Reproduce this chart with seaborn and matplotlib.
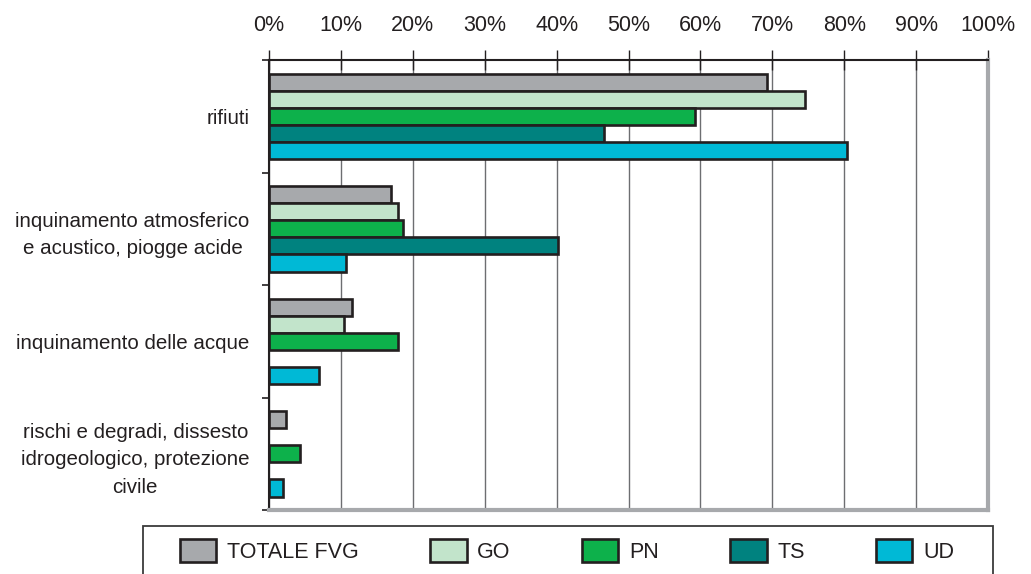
import numpy as np
import pandas as pd
import matplotlib
matplotlib.use("Agg")
import matplotlib.pyplot as plt
from matplotlib import font_manager
from matplotlib.patches import Rectangle
from matplotlib.ticker import FixedLocator
import seaborn as sns

# Percentuali per tema ambientale e zona
categorie = [
    "rifiuti",
    "inquinamento atmosferico\ne acustico, piogge acide",
    "inquinamento delle acque",
    "rischi e degradi, dissesto\nidrogeologico, protezione\ncivile",
]
zone = ["TOTALE FVG", "GO", "PN", "TS", "UD"]
totale_fvg = [69.3, 16.9, 11.6, 2.3]
go = [74.6, 17.9, 10.5, np.nan]
pn = [59.2, 18.7, 17.9, 4.3]
ts = [46.6, 40.2, np.nan, np.nan]
ud = [80.4, 10.7, 6.9, 2.0]
tick_valori = list(range(0, 101, 10))
tick_etichette = [f"{v}%" for v in tick_valori]

colori = ["#A7A9AC", "#C2E4CB", "#0DB14B", "#00827F", "#00B9D6"]

sns.set_style("white")
plt.rcParams["font.family"] = ["Liberation Sans", "DejaVu Sans"]
nomi = {f.name for f in font_manager.fontManager.ttflist}
font_legenda = "Liberation Sans Narrow" if "Liberation Sans Narrow" in nomi else "Liberation Sans"

righe = []
for zona, valori in zip(zone, [totale_fvg, go, pn, ts, ud]):
    for cat, v in zip(categorie, valori):
        if not np.isnan(v):
            righe.append({"categoria": cat, "zona": zona, "valore": v})
df = pd.DataFrame(righe)

fig = plt.figure(figsize=(10.31, 5.74), dpi=100)
ax = fig.add_axes([269 / 1031, 1 - 510 / 574, (988 - 269) / 1031, (510 - 60) / 574])

sns.barplot(
    data=df, y="categoria", x="valore", hue="zona",
    order=categorie, hue_order=zone, palette=colori,
    orient="h", width=0.76, saturation=1,
    edgecolor="#231F20", linewidth=1.9, errorbar=None, ax=ax,
)
handles, labels = ax.get_legend_handles_labels()
if ax.get_legend() is not None:
    ax.get_legend().remove()

ax.set_xlim(0, 100)
ax.set_ylim(3.5, -0.5)
ax.set_xlabel("")
ax.set_ylabel("")

# asse percentuale in alto
ax.xaxis.tick_top()
ax.set_xticks(tick_valori)
ax.set_xticklabels(tick_etichette)
ax.tick_params(axis="x", top=True, bottom=False, direction="inout", length=14,
               width=1.0, color="#231F20", pad=10, labelsize=15.5, labelcolor="#231F20")
ax.grid(axis="x", color="#6D6E71", linewidth=1.0)
ax.grid(axis="y", visible=False)
ax.set_axisbelow(True)

# etichette delle categorie, centrate su più righe
ax.set_yticks(range(len(categorie)))
ax.set_yticklabels(categorie)
for t in ax.get_yticklabels():
    t.set_multialignment("center")
    t.set_linespacing(1.55)
ax.tick_params(axis="y", which="major", length=0, pad=14, labelsize=14.8, labelcolor="#231F20")
ax.yaxis.set_minor_locator(FixedLocator([-0.5, 0.5, 1.5, 2.5, 3.5]))
ax.tick_params(axis="y", which="minor", left=True, direction="out", length=5, width=1.2, color="#231F20")

ax.spines["left"].set_color("#231F20")
ax.spines["left"].set_linewidth(1.5)
ax.spines["top"].set_color("#231F20")
ax.spines["top"].set_linewidth(1.5)
for lato in ["right", "bottom"]:
    ax.spines[lato].set_color("#A7A9AC")
    ax.spines[lato].set_linewidth(3)

# legenda in basso con riquadro
fig.legend(
    handles, labels, loc="center", bbox_to_anchor=(567 / 1031, 1 - 551 / 574),
    ncol=5, frameon=False, prop={"family": font_legenda, "size": 15.5},
    handlelength=1.7, handleheight=1.25, handletextpad=0.5, columnspacing=3.3,
    labelcolor="#231F20",
)
fig.add_artist(Rectangle((143 / 1031, -0.05), 850 / 1031, 0.05 + 1 - 526 / 574,
                         transform=fig.transFigure, fill=False,
                         edgecolor="#3A3A3A", linewidth=1.3))

fig.savefig("out.png", dpi=100)
